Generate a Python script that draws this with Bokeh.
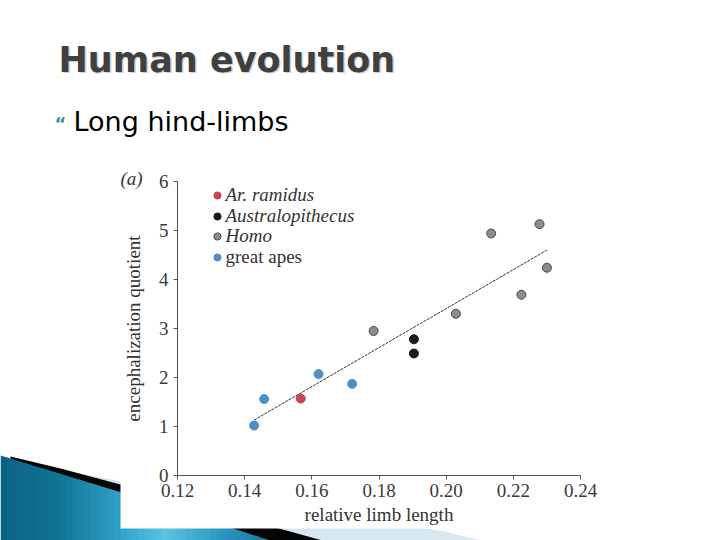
from bokeh.plotting import figure
from bokeh.models import Range1d, FixedTicker, PrintfTickFormatter, Legend, LegendItem
from bokeh.core.properties import value
from bokeh.embed import file_html
from bokeh.resources import INLINE

# ---- data ----
ramidus_x = [0.1567]
ramidus_y = [1.57]
austr_x = [0.1904, 0.1904]
austr_y = [2.78, 2.49]
homo_x = [0.1784, 0.2029, 0.2134, 0.2224, 0.2278, 0.2300]
homo_y = [2.95, 3.30, 4.94, 3.69, 5.13, 4.24]
apes_x = [0.1428, 0.1458, 0.1620, 0.1720]
apes_y = [1.02, 1.56, 2.07, 1.87]
trend_x = [0.1428, 0.2300]
trend_y = [1.13, 4.60]
x_ticks = [0.12, 0.14, 0.16, 0.18, 0.20, 0.22, 0.24]
y_ticks = [0, 1, 2, 3, 4, 5, 6]

SERIF = "Liberation Serif"
W, H = 720, 540

# =============== background slide (pixel space, y down) ===============
bg = figure(width=W, height=H, output_backend="svg", toolbar_location=None,
            x_range=Range1d(0, W), y_range=Range1d(H, 0),
            x_axis_type=None, y_axis_type=None, min_border=0)
bg.outline_line_color = None
bg.grid.visible = False
bg.background_fill_color = "white"
bg.border_fill_color = "white"

def clip_x(poly, xc, keep_greater):
    out = []
    n = len(poly)
    for i in range(n):
        a = poly[i]
        b = poly[(i + 1) % n]
        ina = a[0] >= xc if keep_greater else a[0] <= xc
        inb = b[0] >= xc if keep_greater else b[0] <= xc
        if ina:
            out.append(a)
        if ina != inb:
            t = (xc - a[0]) / (b[0] - a[0])
            out.append((xc, a[1] + t * (b[1] - a[1])))
    return out

light = [(40, 465), (100, 477), (250, 504), (440, 530), (480, 540), (40, 540)]
black = [(10, 456), (60, 468), (120, 484), (322, 540), (10, 540)]
blue = [(0, 455), (120, 491.7), (270, 540), (0, 540)]

bg.patch([x for x, y in light], [y for x, y in light], fill_color="#d6e9f1", line_color=None)
bg.patch([x for x, y in black], [y for x, y in black], fill_color="#050505", line_color=None)

stops = [(0, (10, 98, 130)), (60, (16, 116, 148)), (120, (48, 162, 202)),
         (165, (92, 194, 228)), (225, (40, 148, 190)), (280, (16, 118, 156))]

def col_at(x):
    for (x0, c0), (x1, c1) in zip(stops[:-1], stops[1:]):
        if x0 <= x <= x1:
            t = (x - x0) / (x1 - x0)
            c = [round(c0[i] + t * (c1[i] - c0[i])) for i in range(3)]
            return "#%02x%02x%02x" % tuple(c)
    return "#%02x%02x%02x" % stops[-1][1]

sxs, sys_, scol = [], [], []
step = 6
for sx in range(0, 280, step):
    poly = clip_x(clip_x(blue, sx, True), sx + step + 0.6, False)
    if len(poly) < 3:
        continue
    sxs.append([x for x, y in poly])
    sys_.append([y for x, y in poly])
    scol.append(col_at(sx + step / 2))
bg.patches(sxs, sys_, fill_color=scol, line_color=None)

# white box of the embedded chart image
bg.quad(left=[120], right=[600], top=[160], bottom=[528], fill_color="white", line_color=None)

# slide texts (vertical centres)
bg.text(x=[59.5], y=[60.5], text=["Human evolution"], text_font=value("DejaVu Sans"),
        text_font_style="bold", text_font_size="35px", text_color="#d2d2d2",
        text_baseline="middle")
bg.text(x=[58], y=[59], text=["Human evolution"], text_font=value("DejaVu Sans"),
        text_font_style="bold", text_font_size="35px", text_color="#404040",
        text_baseline="middle")
bg.text(x=[54], y=[123], text=["\u201c"], text_font=value("DejaVu Sans"),
        text_font_style="bold", text_font_size="18px", text_color="#3b8ea5",
        text_baseline="middle")
bg.text(x=[73], y=[121], text=["Long hind-limbs"], text_font=value("DejaVu Sans"),
        text_font_size="27px", text_color="#000000", text_baseline="middle")
bg.text(x=[120], y=[178], text=["(a)"], text_font=value(SERIF), text_font_style="italic",
        text_font_size="19px", text_color="#333333", text_baseline="middle")

# =============== the chart (overlaid on the slide) ===============
p = figure(width=W, height=H, output_backend="svg", toolbar_location=None,
           x_range=Range1d(0.12, 0.24), y_range=Range1d(0, 6),
           min_border_left=177, min_border_right=140, min_border_top=181,
           min_border_bottom=65, margin=(-H, 0, 0, 0))
p.outline_line_color = None
p.grid.visible = False
p.background_fill_color = None
p.border_fill_color = None

p.line(trend_x, trend_y, line_color="#333333", line_width=1, line_dash="3 1")
r_ram = p.scatter(ramidus_x, ramidus_y, size=9, fill_color="#c4474f", line_color="#c4474f")
r_aus = p.scatter(austr_x, austr_y, size=9, fill_color="#1a1a1a", line_color="#1a1a1a")
r_hom = p.scatter(homo_x, homo_y, size=9, fill_color="#8c8c8c", line_color="#4a4a4a")
r_ape = p.scatter(apes_x, apes_y, size=9, fill_color="#4d90c8", line_color="#4d90c8")

for ax in (p.xaxis[0], p.yaxis[0]):
    ax.axis_line_color = "#555555"
    ax.major_tick_line_color = "#555555"
    ax.minor_tick_line_color = None
    ax.major_tick_in = 0
    ax.major_tick_out = 4
    ax.major_label_text_font = SERIF
    ax.major_label_text_font_size = "19px"
    ax.major_label_text_color = "#3a3a3a"
    ax.axis_label_text_font = SERIF
    ax.axis_label_text_font_size = "19px"
    ax.axis_label_text_font_style = "normal"
    ax.axis_label_text_color = "#333333"

p.xaxis.ticker = FixedTicker(ticks=x_ticks)
p.xaxis.formatter = PrintfTickFormatter(format="%.2f")
p.xaxis.major_label_standoff = 4
p.xaxis.axis_label = "relative limb length"
p.xaxis.axis_label_standoff = 4
p.yaxis.ticker = FixedTicker(ticks=y_ticks)
p.yaxis.axis_label = "encephalization quotient"
p.yaxis.axis_label_standoff = 12

leg_common = dict(glyph_width=18, glyph_height=20, label_height=20, spacing=0,
                  padding=0, margin=0, label_standoff=0, border_line_color=None,
                  background_fill_alpha=0, label_text_font=SERIF,
                  label_text_font_size="19px", label_text_color="#333333")
legend_rows = [("Ar. ramidus", r_ram, "italic", 268.7),
               ("Australopithecus", r_aus, "italic", 248.2),
               ("Homo", r_hom, "italic", 227.7),
               ("great apes", r_ape, "normal", 206.7)]
for lab, rend, style, ly in legend_rows:
    p.add_layout(Legend(items=[LegendItem(label=lab, renderers=[rend])],
                        location=(30.5, ly), label_text_font_style=style, **leg_common))

open("out.html", "w").write(file_html([bg, p], INLINE))
